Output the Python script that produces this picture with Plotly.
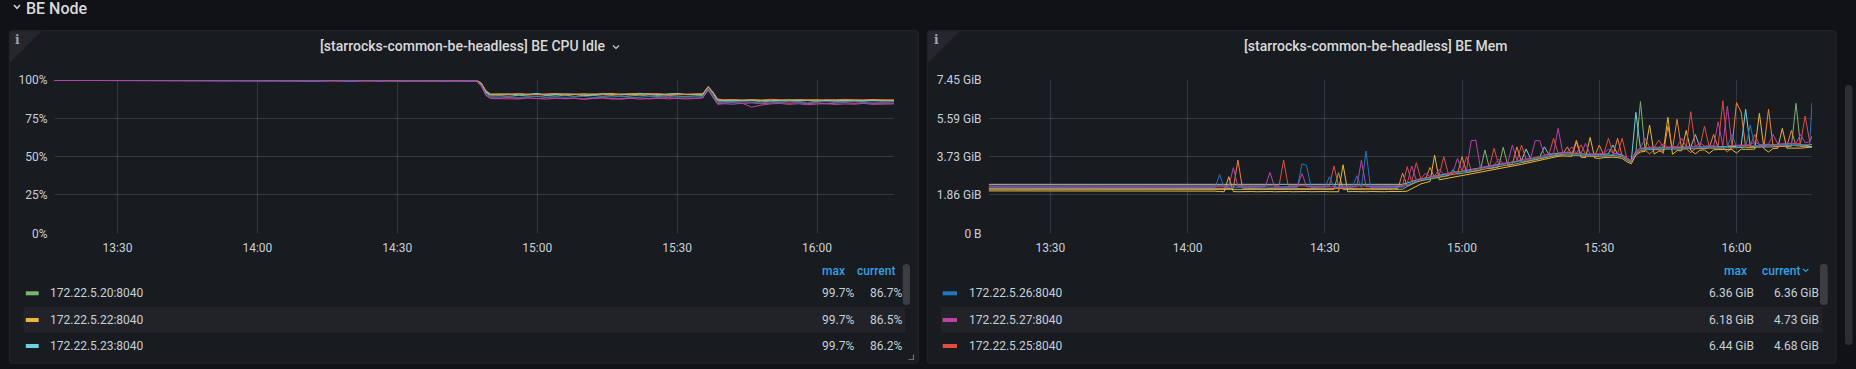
import plotly.graph_objects as go
import pandas as pd

# ---------------- data ----------------
DAY = "2024-01-01 "

series_names = ["172.22.5.20:8040", "172.22.5.22:8040", "172.22.5.23:8040", "172.22.5.24:8040",
                "172.22.5.25:8040", "172.22.5.26:8040", "172.22.5.27:8040"]
series_colors = ["#7EB26D", "#EAB839", "#6ED0E0", "#EF843C", "#E24D42", "#1F78C1", "#BA43A9"]

cpu_times = ["13:16:30", "13:30:00", "13:45:00", "14:00:00", "14:06:00",
             "14:08", "14:10", "14:12", "14:14", "14:16", "14:18", "14:20", "14:22", "14:24", "14:26",
             "14:28", "14:30", "14:32", "14:34", "14:36", "14:38", "14:40", "14:42", "14:44", "14:46",
             "14:47", "14:48", "14:49", "14:50",
             "14:52", "14:54", "14:56", "14:58", "15:00", "15:02", "15:04", "15:06", "15:08", "15:10", "15:12",
             "15:14", "15:16", "15:18", "15:20", "15:22", "15:24", "15:26", "15:28", "15:30", "15:32", "15:34",
             "15:35:30", "15:36:40", "15:37:40", "15:38:40",
             "15:40", "15:42", "15:44", "15:46", "15:48", "15:50", "15:52", "15:54", "15:56", "15:58", "16:00",
             "16:02", "16:04", "16:06", "16:08", "16:10", "16:12", "16:14",
             "16:16:30"]

cpu_20 = [99.7, 99.7, 99.7, 99.7, 99.7,
          99.7, 99.6, 99.7, 99.7, 99.7, 99.5, 99.7, 99.7, 99.7, 99.6, 99.7, 99.7, 99.5, 99.7, 99.7, 99.7, 99.6, 99.7, 99.7, 99.6,
          99.5, 97.0, 91.5, 89.6,
          89.8, 89.4, 90.1, 89.6, 89.2, 89.9, 89.5, 90.2, 89.3, 89.7, 90.0, 89.4, 89.8, 89.1, 89.6, 90.1, 89.5, 89.3, 89.9, 89.6, 89.2, 89.7,
          89.9, 94.2, 90.5, 86.2,
          86.0, 86.4, 86.1, 86.6, 85.8, 86.3, 86.5, 85.9, 86.2, 86.6, 86.0, 86.4, 86.1, 86.5, 85.9, 86.3, 86.6, 86.2,
          86.7]
cpu_22 = [99.7, 99.7, 99.7, 99.7, 99.7,
          99.7, 99.7, 99.5, 99.7, 99.7, 99.7, 99.6, 99.7, 99.7, 99.7, 99.5, 99.7, 99.7, 99.6, 99.7, 99.7, 99.7, 99.5, 99.7, 99.7,
          99.6, 97.8, 92.5, 90.6,
          90.8, 90.5, 91.0, 90.4, 90.9, 90.6, 91.1, 90.3, 90.7, 91.0, 90.5, 90.9, 91.2, 90.6, 90.4, 90.8, 91.1, 90.5, 90.7, 91.0, 90.6, 90.8,
          90.9, 95.6, 92.0, 87.2,
          86.8, 87.0, 86.5, 87.1, 86.7, 86.9, 86.4, 87.0, 86.6, 86.8, 87.1, 86.5, 86.9, 86.7, 87.0, 86.6, 86.8, 86.9,
          86.5]
cpu_23 = [99.7, 99.7, 99.7, 99.7, 99.7,
          99.7, 99.7, 99.7, 99.6, 99.7, 99.7, 99.7, 99.7, 99.6, 99.7, 99.7, 99.7, 99.6, 99.7, 99.7, 99.6, 99.7, 99.7, 99.7, 99.6,
          99.5, 97.2, 92.0, 90.4,
          90.6, 91.0, 90.2, 90.8, 91.2, 90.1, 90.5, 91.0, 90.7, 89.8, 90.4, 91.1, 90.6, 90.2, 90.9, 91.3, 90.5, 90.0, 90.8, 91.2, 90.4, 90.6,
          90.7, 95.3, 91.6, 86.9,
          86.7, 86.3, 86.9, 86.5, 86.8, 86.2, 86.6, 87.0, 86.4, 86.7, 86.3, 86.8, 86.5, 86.2, 86.7, 86.4, 86.9, 86.5,
          86.2]
cpu_24 = [99.7, 99.7, 99.7, 99.7, 99.7,
          99.7, 99.7, 99.6, 99.7, 99.7, 99.7, 99.7, 99.6, 99.7, 99.7, 99.7, 99.7, 99.6, 99.7, 99.7, 99.7, 99.6, 99.7, 99.7, 99.7,
          99.7, 98.2, 93.0, 90.9,
          90.9, 90.6, 91.1, 90.7, 90.4, 90.9, 91.2, 90.6, 90.8, 90.5, 91.0, 90.7, 90.3, 90.9, 91.1, 90.6, 90.8, 91.2, 90.5, 90.7, 91.0, 90.8,
          91.0, 95.7, 92.3, 87.6,
          87.1, 87.3, 86.9, 87.2, 86.8, 87.4, 87.0, 86.9, 87.3, 87.1, 86.8, 87.2, 87.0, 87.4, 86.9, 87.1, 87.3, 87.0,
          87.1]
cpu_25 = [99.7, 99.7, 99.7, 99.7, 99.7,
          99.7, 99.6, 99.7, 99.7, 99.5, 99.7, 99.7, 99.7, 99.7, 99.6, 99.7, 99.7, 99.7, 99.5, 99.7, 99.7, 99.6, 99.7, 99.7, 99.7,
          99.4, 96.3, 90.4, 88.3,
          88.2, 88.6, 88.0, 88.4, 87.9, 88.5, 88.1, 87.8, 88.3, 87.6, 88.2, 88.6, 87.9, 87.5, 88.1, 88.4, 87.7, 88.2, 88.5, 87.9, 88.3, 88.0,
          88.6, 93.6, 89.4, 84.6,
          84.9, 85.3, 84.7, 85.1, 84.5, 85.0, 85.4, 84.8, 85.2, 84.6, 85.0, 84.4, 84.9, 85.3, 84.7, 85.1, 84.8, 85.0,
          84.9]
cpu_26 = [99.7, 99.7, 99.7, 99.7, 99.7,
          99.7, 99.7, 99.7, 99.6, 99.7, 99.7, 99.5, 99.7, 99.7, 99.7, 99.7, 99.6, 99.7, 99.7, 99.7, 99.5, 99.7, 99.7, 99.6, 99.7,
          99.5, 96.8, 91.0, 89.0,
          88.9, 89.3, 88.6, 89.1, 89.5, 88.8, 89.2, 88.7, 89.0, 89.4, 88.6, 89.1, 88.9, 89.3, 88.5, 89.0, 89.2, 88.8, 89.4, 88.7, 89.1, 88.9,
          89.2, 94.5, 90.2, 85.3,
          85.6, 85.2, 85.8, 85.4, 85.0, 85.7, 85.3, 85.9, 85.5, 85.1, 85.6, 85.8, 85.2, 85.5, 85.9, 85.3, 85.6, 85.4,
          85.7]
cpu_27 = [99.7, 99.7, 99.7, 99.7, 99.7,
          99.6, 99.3, 99.0, 99.5, 99.7, 99.4, 99.1, 99.6, 99.7, 99.3, 99.7, 99.6, 99.2, 99.7, 99.4, 99.7, 99.2, 99.7, 99.6, 99.3,
          99.2, 96.0, 89.9, 87.9,
          87.8, 88.1, 87.6, 88.3, 87.9, 87.5, 88.2, 87.8, 88.0, 87.4, 87.9, 88.2, 87.6, 87.8, 88.1, 87.5, 87.9, 88.3, 87.7, 88.0, 87.6, 87.9,
          88.3, 93.3, 89.0, 84.1,
          84.5, 84.2, 84.8, 82.3, 83.6, 84.4, 84.7, 84.1, 84.5, 83.9, 84.3, 84.6, 84.0, 84.4, 84.2, 84.7, 84.1, 84.3,
          84.4]

# memory in GiB: 4 sparse samples, then one per minute 14:06..16:16, then 16:16:30
mem_times_sparse = ["13:16:30", "13:30:00", "13:45:00", "14:00:00"]
mem_times_dense = [t.strftime("%H:%M:%S") for t in pd.date_range(DAY + "14:06", DAY + "16:16", freq="1min")]
mem_times = mem_times_sparse + mem_times_dense + ["16:16:30"]

mem_20 = [2.12, 2.12, 2.13, 2.12,
          2.12, 2.12, 2.13, 2.12, 2.12, 2.13, 2.12, 2.12, 2.13, 2.12,
          2.12, 2.13, 2.12, 2.12, 2.13, 2.12, 2.12, 2.13, 2.12, 2.12,
          2.13, 2.12, 2.12, 2.13, 2.12, 2.12, 2.13, 2.95, 2.12, 2.13,
          2.12, 2.12, 2.13, 2.12, 2.12, 2.13, 2.12, 2.12, 2.13, 2.12,
          2.12, 2.14, 2.28, 2.40, 2.48, 2.55, 2.60, 2.64, 2.68, 2.72,
          2.76, 2.80, 3.10, 2.88, 2.92, 2.95, 2.98, 3.02, 3.06, 4.05,
          3.14, 3.18, 3.22, 4.18, 3.30, 3.34, 3.39, 3.44, 3.48, 3.52,
          3.57, 3.62, 3.67, 3.72, 3.76, 3.80, 3.82, 3.82, 3.80, 3.78,
          3.76, 3.74, 3.74, 3.73, 3.74, 3.76, 3.78, 3.78, 3.76, 3.72,
          3.56, 3.45, 3.90, 6.40, 4.06, 4.07, 4.08, 4.07, 4.09, 4.08,
          4.10, 4.09, 4.11, 4.10, 4.12, 4.11, 4.13, 4.12, 4.14, 4.13,
          4.15, 4.14, 4.16, 4.15, 4.17, 4.16, 4.18, 4.17, 4.19, 4.18,
          4.20, 4.19, 4.21, 4.20, 4.22, 4.21, 4.23, 6.32, 4.22, 4.23,
          4.20,
          4.19]
mem_22 = [2.06, 2.06, 2.07, 2.06,
          2.05, 2.03, 2.02, 2.75, 2.03, 2.02, 2.03, 2.02, 2.03, 2.02,
          2.03, 2.02, 2.03, 2.02, 2.03, 2.02, 2.03, 2.02, 2.03, 2.02,
          2.03, 2.02, 2.03, 2.02, 2.03, 2.02, 2.03, 2.02, 3.33, 2.02,
          2.03, 2.02, 2.03, 2.02, 2.03, 2.02, 2.03, 2.02, 2.03, 2.02,
          2.02, 2.03, 2.05, 2.18, 2.30, 2.40, 2.46, 2.52, 3.80, 2.60,
          2.64, 2.68, 2.72, 2.76, 2.80, 2.84, 2.88, 2.92, 2.96, 3.00,
          3.04, 3.08, 3.12, 3.16, 3.20, 3.25, 3.30, 3.35, 3.40, 3.45,
          3.50, 3.55, 3.60, 3.65, 3.70, 3.74, 3.76, 3.76, 3.74, 4.45,
          3.70, 3.68, 4.66, 3.66, 3.64, 3.68, 3.70, 3.70, 3.68, 3.64,
          3.48, 3.38, 3.80, 3.95, 3.98, 5.26, 3.85, 3.99, 4.00, 5.64,
          3.84, 4.02, 4.01, 5.00, 4.03, 3.86, 4.04, 4.05, 3.88, 4.06,
          4.07, 4.06, 4.08, 4.07, 3.90, 4.09, 4.08, 4.10, 4.09, 5.83,
          4.11, 3.95, 4.12, 4.13, 5.10, 4.14, 4.13, 4.15, 4.14, 4.16,
          4.18,
          4.20]
mem_23 = [2.38, 2.38, 2.39, 2.38,
          2.38, 2.38, 2.39, 2.38, 2.38, 2.39, 2.38, 2.38, 2.39, 2.38,
          2.38, 2.39, 2.38, 2.38, 2.39, 2.38, 2.38, 2.39, 2.38, 2.38,
          2.39, 2.38, 2.38, 2.39, 2.38, 2.38, 2.39, 2.38, 2.38, 2.39,
          2.38, 2.38, 2.39, 2.38, 2.38, 2.39, 2.38, 2.38, 2.39, 2.38,
          2.38, 2.38, 2.44, 2.52, 2.59, 2.64, 2.69, 2.73, 2.78, 2.82,
          2.86, 2.90, 2.94, 2.98, 3.02, 3.05, 3.08, 3.12, 3.16, 3.20,
          3.24, 3.28, 3.32, 3.36, 3.40, 3.44, 3.49, 3.54, 4.10, 3.62,
          3.67, 3.72, 4.20, 3.82, 3.86, 3.89, 3.91, 3.91, 3.89, 3.87,
          3.84, 3.82, 3.82, 3.81, 3.82, 3.84, 3.86, 4.29, 3.84, 3.80,
          3.64, 3.52, 5.88, 4.12, 4.13, 4.14, 4.15, 4.14, 4.16, 4.15,
          4.17, 4.16, 4.18, 4.17, 4.19, 4.80, 4.18, 4.20, 4.19, 4.21,
          4.20, 4.22, 4.21, 4.23, 4.22, 4.24, 6.03, 4.23, 4.25, 4.24,
          4.26, 4.25, 4.27, 4.26, 4.28, 4.27, 4.29, 4.28, 4.30, 4.29,
          4.22,
          4.20]
mem_24 = [2.18, 2.18, 2.19, 2.18,
          2.18, 2.18, 2.19, 2.18, 2.18, 3.56, 2.19, 2.18, 2.18, 2.19,
          2.18, 2.18, 2.19, 2.18, 2.18, 2.19, 2.18, 2.18, 2.19, 2.18,
          2.18, 2.19, 2.18, 2.18, 2.19, 2.18, 2.18, 2.19, 2.18, 2.18,
          2.19, 2.18, 2.18, 2.19, 2.18, 2.18, 2.19, 2.18, 2.18, 2.19,
          2.18, 2.93, 2.30, 2.42, 2.50, 2.57, 2.62, 3.20, 2.70, 2.74,
          2.78, 2.82, 2.86, 2.90, 3.72, 2.97, 3.00, 3.04, 3.08, 3.12,
          3.16, 3.20, 3.24, 3.28, 3.32, 3.36, 4.20, 3.46, 3.50, 3.54,
          3.59, 3.64, 3.69, 3.74, 3.78, 3.82, 3.84, 4.20, 3.82, 4.53,
          3.78, 3.76, 3.76, 3.75, 4.29, 3.78, 3.80, 3.80, 4.62, 3.74,
          3.58, 3.46, 3.88, 4.02, 4.05, 3.86, 4.07, 4.06, 3.88, 5.20,
          4.09, 5.54, 4.10, 4.11, 3.92, 4.12, 4.13, 4.12, 4.14, 4.80,
          4.15, 4.16, 3.96, 4.17, 6.35, 5.90, 4.18, 4.19, 4.18, 4.20,
          4.21, 6.03, 4.22, 4.23, 4.22, 4.24, 5.00, 4.25, 4.24, 4.26,
          4.30,
          4.32]
mem_25 = [2.30, 2.30, 2.31, 2.30,
          2.30, 2.30, 2.31, 2.30, 2.30, 2.31, 2.30, 2.30, 2.31, 2.30,
          2.30, 2.31, 2.30, 2.30, 2.31, 3.56, 2.30, 2.31, 2.30, 2.30,
          2.31, 2.30, 2.30, 2.31, 2.30, 2.30, 3.27, 2.31, 2.30, 2.30,
          2.31, 2.30, 2.30, 2.31, 2.30, 2.30, 2.31, 2.30, 2.30, 2.31,
          2.30, 2.31, 3.24, 2.50, 3.43, 2.64, 2.69, 2.74, 2.78, 2.82,
          3.72, 2.90, 2.94, 2.98, 3.02, 3.72, 3.09, 3.13, 3.17, 3.21,
          3.25, 4.13, 3.33, 3.37, 3.41, 3.45, 3.50, 4.29, 3.59, 3.63,
          3.68, 3.73, 3.78, 3.83, 4.62, 3.90, 3.92, 3.92, 3.90, 3.88,
          4.30, 3.84, 3.84, 3.83, 3.84, 3.86, 4.62, 3.88, 3.86, 4.62,
          3.66, 3.53, 3.98, 4.13, 4.15, 4.16, 4.17, 4.53, 4.18, 4.17,
          4.19, 4.18, 4.20, 4.19, 5.91, 4.21, 4.20, 5.21, 4.22, 4.23,
          4.24, 6.44, 4.25, 4.26, 4.27, 4.26, 4.28, 4.27, 4.80, 4.29,
          4.30, 4.31, 4.32, 4.31, 4.33, 4.34, 4.33, 4.35, 4.36, 5.70,
          4.45,
          4.68]
mem_26 = [2.22, 2.22, 2.21, 2.22,
          2.22, 2.85, 2.23, 2.22, 2.21, 2.22, 2.22, 2.23, 2.22, 2.22,
          2.22, 2.21, 2.22, 2.22, 2.23, 2.22, 2.22, 2.21, 2.22, 3.38,
          3.30, 2.23, 2.22, 2.22, 2.21, 2.75, 2.22, 2.22, 2.23, 2.22,
          2.22, 2.80, 2.22, 4.00, 2.23, 2.22, 2.21, 2.22, 2.22, 2.22,
          2.22, 2.24, 2.36, 2.46, 2.54, 2.60, 2.65, 2.70, 2.74, 2.78,
          2.82, 2.86, 3.05, 2.94, 2.98, 3.01, 3.04, 3.08, 3.12, 3.16,
          3.20, 3.24, 3.28, 3.32, 3.36, 3.40, 3.45, 3.50, 3.54, 3.58,
          3.63, 3.68, 3.73, 3.78, 3.82, 3.85, 3.87, 3.87, 3.85, 3.83,
          3.80, 3.78, 3.78, 3.77, 3.78, 3.80, 3.82, 3.82, 3.80, 3.76,
          3.60, 3.48, 3.92, 4.08, 4.10, 4.11, 4.12, 4.11, 4.13, 4.12,
          4.14, 4.13, 4.15, 4.14, 4.16, 4.15, 4.17, 4.16, 4.18, 4.17,
          4.19, 4.18, 4.20, 4.80, 4.21, 4.22, 4.21, 5.26, 4.23, 4.24,
          4.25, 4.26, 4.25, 4.27, 4.28, 4.27, 4.29, 4.30, 4.29, 4.31,
          4.32,
          6.36]
mem_27 = [2.26, 2.26, 2.27, 2.26,
          2.26, 2.26, 2.27, 2.26, 3.19, 2.27, 2.26, 2.26, 2.27, 2.26,
          2.26, 2.27, 2.96, 2.26, 2.26, 2.27, 2.26, 2.26, 2.27, 2.90,
          2.27, 2.26, 2.26, 2.27, 2.26, 2.26, 2.27, 2.26, 2.26, 2.27,
          2.26, 2.26, 3.55, 2.27, 2.26, 2.26, 2.27, 2.26, 2.26, 2.27,
          2.26, 2.28, 2.42, 3.27, 2.60, 2.66, 2.92, 2.76, 2.80, 3.10,
          2.88, 2.92, 2.96, 3.64, 3.04, 3.08, 4.50, 4.53, 3.20, 3.24,
          3.28, 3.32, 3.60, 3.40, 3.44, 4.29, 3.53, 3.58, 3.62, 3.66,
          4.50, 4.50, 3.80, 3.85, 3.89, 5.10, 3.94, 3.94, 4.20, 3.90,
          3.87, 4.37, 3.85, 3.84, 3.85, 3.87, 4.10, 3.89, 3.87, 3.83,
          3.66, 3.54, 4.00, 4.15, 4.62, 4.18, 4.19, 4.18, 4.35, 4.19,
          4.21, 4.20, 4.62, 4.22, 4.23, 4.22, 4.40, 4.24, 4.25, 4.24,
          5.42, 4.26, 6.18, 4.27, 4.28, 4.29, 4.28, 4.30, 4.45, 4.31,
          4.32, 4.33, 4.80, 4.34, 4.35, 4.36, 4.35, 4.37, 4.80, 4.40,
          4.45,
          4.73]

cpu_series = [cpu_20, cpu_22, cpu_23, cpu_24, cpu_25, cpu_26, cpu_27]
mem_series = [mem_20, mem_22, mem_23, mem_24, mem_25, mem_26, mem_27]

x_tick_labels = ["13:30", "14:00", "14:30", "15:00", "15:30", "16:00"]
cpu_tick_vals = [0, 25, 50, 75, 100]
cpu_tick_text = ["0%", "25%", "50%", "75%", "100%"]
mem_tick_bytes = [0, 2e9, 4e9, 6e9, 8e9]
mem_tick_text = ["0 B", "1.86 GiB", "3.73 GiB", "5.59 GiB", "7.45 GiB"]

cpu_legend_idx = [0, 1, 2]   # .20, .22, .23
mem_legend_idx = [5, 6, 4]   # .26, .27, .25

title_cpu = "[starrocks-common-be-headless] BE CPU Idle"
title_mem = "[starrocks-common-be-headless] BE Mem"
row_title = "BE Node"

# ---------------- styling / layout ----------------
W, H = 1856, 369
FONT = "Roboto, Inter, 'Open Sans', sans-serif"
PAGE_BG = "#111217"
PANEL_BG = "#181b1f"
PANEL_BORDER = "#23252a"
GRID = "rgba(204,204,220,0.17)"
TXT = "#c7d0d9"
TITLE_TXT = "#d8d9da"
BLUE_TXT = "#33a2e5"
ROW_HL = "#212329"


def px(x):
    return x / W


def py(y):
    return 1 - y / H


def rrect(x0, y0, x1, y1, r, fill, line=None):
    p = (f"M {px(x0 + r)},{py(y0)} L {px(x1 - r)},{py(y0)} Q {px(x1)},{py(y0)} {px(x1)},{py(y0 + r)} "
         f"L {px(x1)},{py(y1 - r)} Q {px(x1)},{py(y1)} {px(x1 - r)},{py(y1)} "
         f"L {px(x0 + r)},{py(y1)} Q {px(x0)},{py(y1)} {px(x0)},{py(y1 - r)} "
         f"L {px(x0)},{py(y0 + r)} Q {px(x0)},{py(y0)} {px(x0 + r)},{py(y0)} Z")
    return dict(type="path", path=p, xref="paper", yref="paper", fillcolor=fill,
                line=dict(color=line or fill, width=1 if line else 0), layer="below")


def poly(points, color, width=1.5, close=False, fill=None):
    p = "M " + " L ".join(f"{px(x)},{py(y)}" for x, y in points) + (" Z" if close else "")
    d = dict(type="path", path=p, xref="paper", yref="paper", layer="below",
             line=dict(color=color, width=width))
    if fill:
        d["fillcolor"] = fill
        d["line"] = dict(color=fill, width=0)
    return d


def txt(x, y, s, size=12, color=TXT, anchor="left", weight=400, family=FONT):
    return dict(x=px(x), y=py(y), xref="paper", yref="paper", text=s, showarrow=False,
                xanchor=anchor, yanchor="middle", borderpad=0,
                font=dict(family=family, size=size, color=color, weight=weight))


fig = go.Figure()

for name, color, vals in zip(series_names, series_colors, cpu_series):
    fig.add_trace(go.Scatter(x=[DAY + t for t in cpu_times], y=vals, mode="lines", name=name,
                             line=dict(color=color, width=1), hoverinfo="skip", showlegend=False,
                             xaxis="x", yaxis="y"))
for name, color, vals in zip(series_names, series_colors, mem_series):
    fig.add_trace(go.Scatter(x=[DAY + t for t in mem_times], y=vals, mode="lines", name=name,
                             line=dict(color=color, width=1), hoverinfo="skip", showlegend=False,
                             xaxis="x2", yaxis="y2"))

x_range = [DAY + "13:16:30", DAY + "16:16:30"]
x_tickvals = [DAY + t for t in x_tick_labels]
axis_font = dict(family=FONT, size=12, color=TXT)
common_x = dict(type="date", range=x_range, tickvals=x_tickvals, ticktext=x_tick_labels,
                showgrid=True, gridcolor=GRID, gridwidth=1, zeroline=False, showline=False,
                ticks="", tickfont=axis_font, ticklabelstandoff=6, fixedrange=True, automargin=False)
common_y = dict(showgrid=True, gridcolor=GRID, gridwidth=1, zeroline=False, showline=False,
                ticks="", tickfont=axis_font, ticklabelstandoff=6, fixedrange=True, automargin=False)

GiB = 2 ** 30
fig.update_layout(
    template="none",
    width=W, height=H, autosize=False,
    margin=dict(l=0, r=0, t=0, b=0, pad=0, autoexpand=False),
    paper_bgcolor=PAGE_BG, plot_bgcolor="rgba(0,0,0,0)",
    font=dict(family=FONT, color=TXT),
    showlegend=False,
    xaxis=dict(domain=[px(54.5), px(894)], anchor="y", **common_x),
    yaxis=dict(domain=[py(233.3), py(80)], anchor="x", range=[0, 100],
               tickvals=cpu_tick_vals, ticktext=cpu_tick_text, **common_y),
    xaxis2=dict(domain=[px(988.6), px(1812)], anchor="y2", **common_x),
    yaxis2=dict(domain=[py(233.3), py(80)], anchor="x2", range=[0, 8e9 / GiB],
                tickvals=[b / GiB for b in mem_tick_bytes], ticktext=mem_tick_text, **common_y),
)

shapes = []
# panels
shapes.append(rrect(9.3, 30.7, 918.3, 363.3, 3, PANEL_BG, PANEL_BORDER))
shapes.append(rrect(927.3, 30.7, 1836, 363.3, 3, PANEL_BG, PANEL_BORDER))
# info corner triangles
shapes.append(poly([(9.8, 31.2), (41.5, 31.2), (9.8, 62.7)], None, close=True, fill="#25272c"))
shapes.append(poly([(927.8, 31.2), (959.5, 31.2), (927.8, 62.7)], None, close=True, fill="#25272c"))
# legend highlighted rows
shapes.append(dict(type="rect", xref="paper", yref="paper", x0=px(23.5), x1=px(905), y0=py(332.7), y1=py(306.7),
                   fillcolor=ROW_HL, line=dict(width=0), layer="below"))
shapes.append(dict(type="rect", xref="paper", yref="paper", x0=px(941), x1=px(1822.7), y0=py(332.7), y1=py(306.7),
                   fillcolor=ROW_HL, line=dict(width=0), layer="below"))
# legend scrollbars
shapes.append(rrect(902.7, 264, 910, 305, 3.5, "#3b3d42"))
shapes.append(rrect(1820, 264, 1827.7, 305, 3.5, "#3b3d42"))
# page scrollbar
shapes.append(rrect(1845, 85, 1852.5, 345, 3.5, "#2c2e33"))
# chevrons
shapes.append(poly([(14, 5), (17, 8.3), (20, 5)], TXT, 1.5))
shapes.append(poly([(613, 45.5), (616, 48.5), (619, 45.5)], TXT, 1.2))
shapes.append(poly([(1803, 268.8), (1805.7, 271.5), (1808.4, 268.8)], BLUE_TXT, 1.2))
# resize handle
shapes.append(poly([(913.5, 354.5), (913.5, 359.5), (908.5, 359.5)], "#6e7075", 1.2))

# legend swatches
for idx, yrow in zip(cpu_legend_idx, [293.3, 320, 346]):
    shapes.append(dict(type="rect", xref="paper", yref="paper", x0=px(25.8), x1=px(38.7),
                       y0=py(yrow + 2), y1=py(yrow - 2), fillcolor=series_colors[idx],
                       line=dict(width=0), layer="below"))
for idx, yrow in zip(mem_legend_idx, [293.3, 320, 346]):
    shapes.append(dict(type="rect", xref="paper", yref="paper", x0=px(942.7), x1=px(957),
                       y0=py(yrow + 2), y1=py(yrow - 2), fillcolor=series_colors[idx],
                       line=dict(width=0), layer="below"))

ann = []
ann.append(txt(25, 8.5, row_title, size=16, color=TITLE_TXT, weight=500))
ann.append(txt(463, 46.5, title_cpu, size=14, color=TITLE_TXT, anchor="center", weight=500))
ann.append(txt(1375, 46.5, title_mem, size=14, color=TITLE_TXT, anchor="center", weight=500))
ann.append(txt(17.5, 40, "i", size=12, color="#a3a5aa", anchor="center", weight=700, family="DejaVu Serif"))
ann.append(txt(936, 40, "i", size=12, color="#a3a5aa", anchor="center", weight=700, family="DejaVu Serif"))

# legend headers
ann.append(txt(845.5, 271, "max", color=BLUE_TXT, anchor="right", weight=500))
ann.append(txt(895.5, 271, "current", color=BLUE_TXT, anchor="right", weight=500))
ann.append(txt(1747.5, 271, "max", color=BLUE_TXT, anchor="right", weight=500))
ann.append(txt(1800.5, 271, "current", color=BLUE_TXT, anchor="right", weight=500))

for idx, yrow in zip(cpu_legend_idx, [293.3, 320, 346]):
    vals = cpu_series[idx]
    ann.append(txt(49.3, yrow, series_names[idx]))
    ann.append(txt(854.5, yrow, f"{max(vals):.1f}%", anchor="right"))
    ann.append(txt(902.8, yrow, f"{vals[-1]:.1f}%", anchor="right"))
for idx, yrow in zip(mem_legend_idx, [293.3, 320, 346]):
    vals = mem_series[idx]
    ann.append(txt(967.8, yrow, series_names[idx]))
    ann.append(txt(1754.8, yrow, f"{max(vals):.2f} GiB", anchor="right"))
    ann.append(txt(1820.2, yrow, f"{vals[-1]:.2f} GiB", anchor="right"))

fig.update_layout(shapes=shapes, annotations=ann)

post = (
    "document.documentElement.style.margin='0';document.documentElement.style.padding='0';"
    "document.documentElement.style.overflow='hidden';"
    "document.body.style.margin='0';document.body.style.padding='0';document.body.style.overflow='hidden';"
    "var gd=document.getElementById('fig');"
    "gd.style.width='1856px';gd.style.height='369px';gd.style.margin='0';"
    "Plotly.relayout(gd,{width:1856,height:369,autosize:false});"
)
fig.write_html("out.html", div_id="fig",
               config={"displayModeBar": False, "staticPlot": True, "responsive": False},
               post_script=post)
